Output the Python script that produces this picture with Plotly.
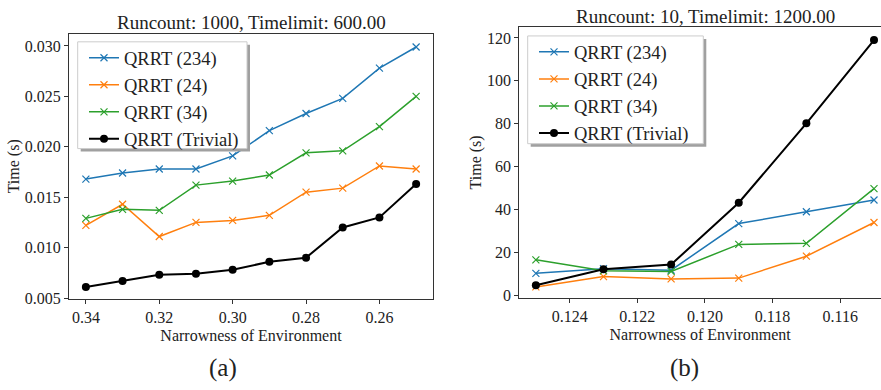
import plotly.graph_objects as go

# ---- Data: panel (a) ----
x_a = [0.34, 0.33, 0.32, 0.31, 0.30, 0.29, 0.28, 0.27, 0.26, 0.25]
a_234 = [0.0168, 0.0174, 0.0178, 0.0178, 0.0191, 0.0216, 0.0233, 0.0248, 0.0278, 0.0299]
a_24 = [0.0122, 0.0143, 0.0111, 0.0125, 0.0127, 0.0132, 0.0155, 0.0159, 0.0181, 0.0178]
a_34 = [0.0129, 0.0138, 0.0137, 0.0162, 0.0166, 0.0172, 0.0194, 0.0196, 0.0220, 0.0250]
a_triv = [0.0061, 0.0067, 0.0073, 0.0074, 0.0078, 0.0086, 0.0090, 0.0120, 0.0130, 0.0163]

# ---- Data: panel (b) ----
x_b = [0.125, 0.123, 0.121, 0.119, 0.117, 0.115]
b_234 = [10.3, 12.5, 11.8, 33.5, 39.0, 44.5]
b_24 = [4.0, 8.8, 7.7, 8.1, 18.3, 34.0]
b_34 = [16.6, 11.5, 11.2, 23.8, 24.3, 49.8]
b_triv = [4.8, 12.2, 14.4, 43.2, 80.2, 119.0]

names = ["QRRT (234)", "QRRT (24)", "QRRT (34)", "QRRT (Trivial)"]
colors = ["#1f77b4", "#ff7f0e", "#2ca02c", "#000000"]

title_a = "Runcount: 1000, Timelimit: 600.00"
title_b = "Runcount: 10, Timelimit: 1200.00"
xlabel = "Narrowness of Environment"
ylabel = "Time (s)"

FONT = "Liberation Serif, Times New Roman, serif"
TXT = "#222222"
fig = go.Figure()

def add_series(xs, ys_list, xa, ya, legend):
    for name, ys, col in zip(names, ys_list, colors):
        if name.endswith("(Trivial)"):
            marker = dict(symbol="circle", size=8, color=col)
            lw = 2
        else:
            marker = dict(symbol="x-thin", size=7, color=col, line=dict(width=1.2, color=col))
            lw = 1.5
        fig.add_trace(go.Scatter(
            x=xs, y=ys, mode="lines+markers", name=name,
            line=dict(color=col, width=lw), marker=marker,
            xaxis=xa, yaxis=ya, legend=legend,
        ))

add_series(x_a, [a_234, a_24, a_34, a_triv], "x", "y", "legend")
add_series(x_b, [b_234, b_24, b_34, b_triv], "x2", "y2", "legend2")

W, H = 881, 390
axis_common = dict(
    showgrid=False, zeroline=False, showline=True,
    linecolor="#333333", linewidth=1, ticks="outside", ticklen=4,
    tickcolor="#333333", tickwidth=1,
    tickfont=dict(family=FONT, size=16, color=TXT),
    title_font=dict(family=FONT, size=16, color=TXT),
)

ax_l, ax_r, ax_t, ax_b = 69, 433, 34.3, 305.3
bx_l, bx_r, bx_t, bx_b = 519.3, 881, 27.3, 304.3

legend_common = dict(xanchor="left", yanchor="top", bgcolor="rgba(0,0,0,0)",
                     borderwidth=0, font=dict(family=FONT, size=18.5, color=TXT),
                     itemwidth=30, traceorder="normal")

fig.update_layout(
    width=W, height=H, margin=dict(l=0, r=0, t=0, b=0),
    paper_bgcolor="white", plot_bgcolor="white",
    font=dict(family=FONT, color=TXT),
    xaxis=dict(domain=[ax_l / W, ax_r / W], anchor="y", range=[0.3446, 0.2454], mirror=True,
               tickvals=[0.34, 0.32, 0.30, 0.28, 0.26], tickformat=".2f",
               title=dict(text=xlabel, standoff=4), **axis_common),
    yaxis=dict(domain=[1 - ax_b / H, 1 - ax_t / H], anchor="x", range=[0.00490, 0.03123], mirror=True,
               tickvals=[0.005, 0.010, 0.015, 0.020, 0.025, 0.030], tickformat=".3f",
               title=dict(text=ylabel, standoff=1), **axis_common),
    xaxis2=dict(domain=[bx_l / W, bx_r / W], anchor="y2", range=[0.12549, 0.114793], mirror=True,
                tickvals=[0.124, 0.122, 0.120, 0.118, 0.116], tickformat=".3f",
                title=dict(text=xlabel, standoff=4), **axis_common),
    yaxis2=dict(domain=[1 - bx_b / H, 1 - bx_t / H], anchor="x2", range=[-1.2, 125.2], mirror=False,
                tickvals=[0, 20, 40, 60, 80, 100, 120],
                title=dict(text=ylabel, standoff=1), **axis_common),
    legend=dict(x=84 / W, y=1 - 40 / H, **legend_common),
    legend2=dict(x=534 / W, y=1 - 34 / H, **legend_common),
    showlegend=True,
)

# legend frames with shadow (drawn above traces, below legend text)
for (l, t, r, b) in [(77.7, 42.7, 247, 151.7), (527.7, 36.7, 703.3, 146.7)]:
    fig.add_shape(type="rect", xref="paper", yref="paper",
                  x0=(l + 3) / W, x1=(r + 3) / W, y0=1 - (b + 3) / H, y1=1 - (t + 3) / H,
                  fillcolor="#a0a0a0", line=dict(width=0), layer="above")
    fig.add_shape(type="rect", xref="paper", yref="paper",
                  x0=l / W, x1=r / W, y0=1 - b / H, y1=1 - t / H,
                  fillcolor="white", line=dict(width=1, color="#cccccc"), layer="above")

def ann(text, xpx, ypx, size):
    fig.add_annotation(text=text, x=xpx / W, y=1 - ypx / H, xref="paper", yref="paper",
                       xanchor="center", yanchor="middle", showarrow=False,
                       font=dict(family=FONT, size=size, color=TXT))

ann(title_a, 251, 23, 19)
ann(title_b, 705, 17, 19)
ann("(a)", 222.5, 376, 25)
ann("(b)", 684, 376, 25)

fig.write_html("out.html")
